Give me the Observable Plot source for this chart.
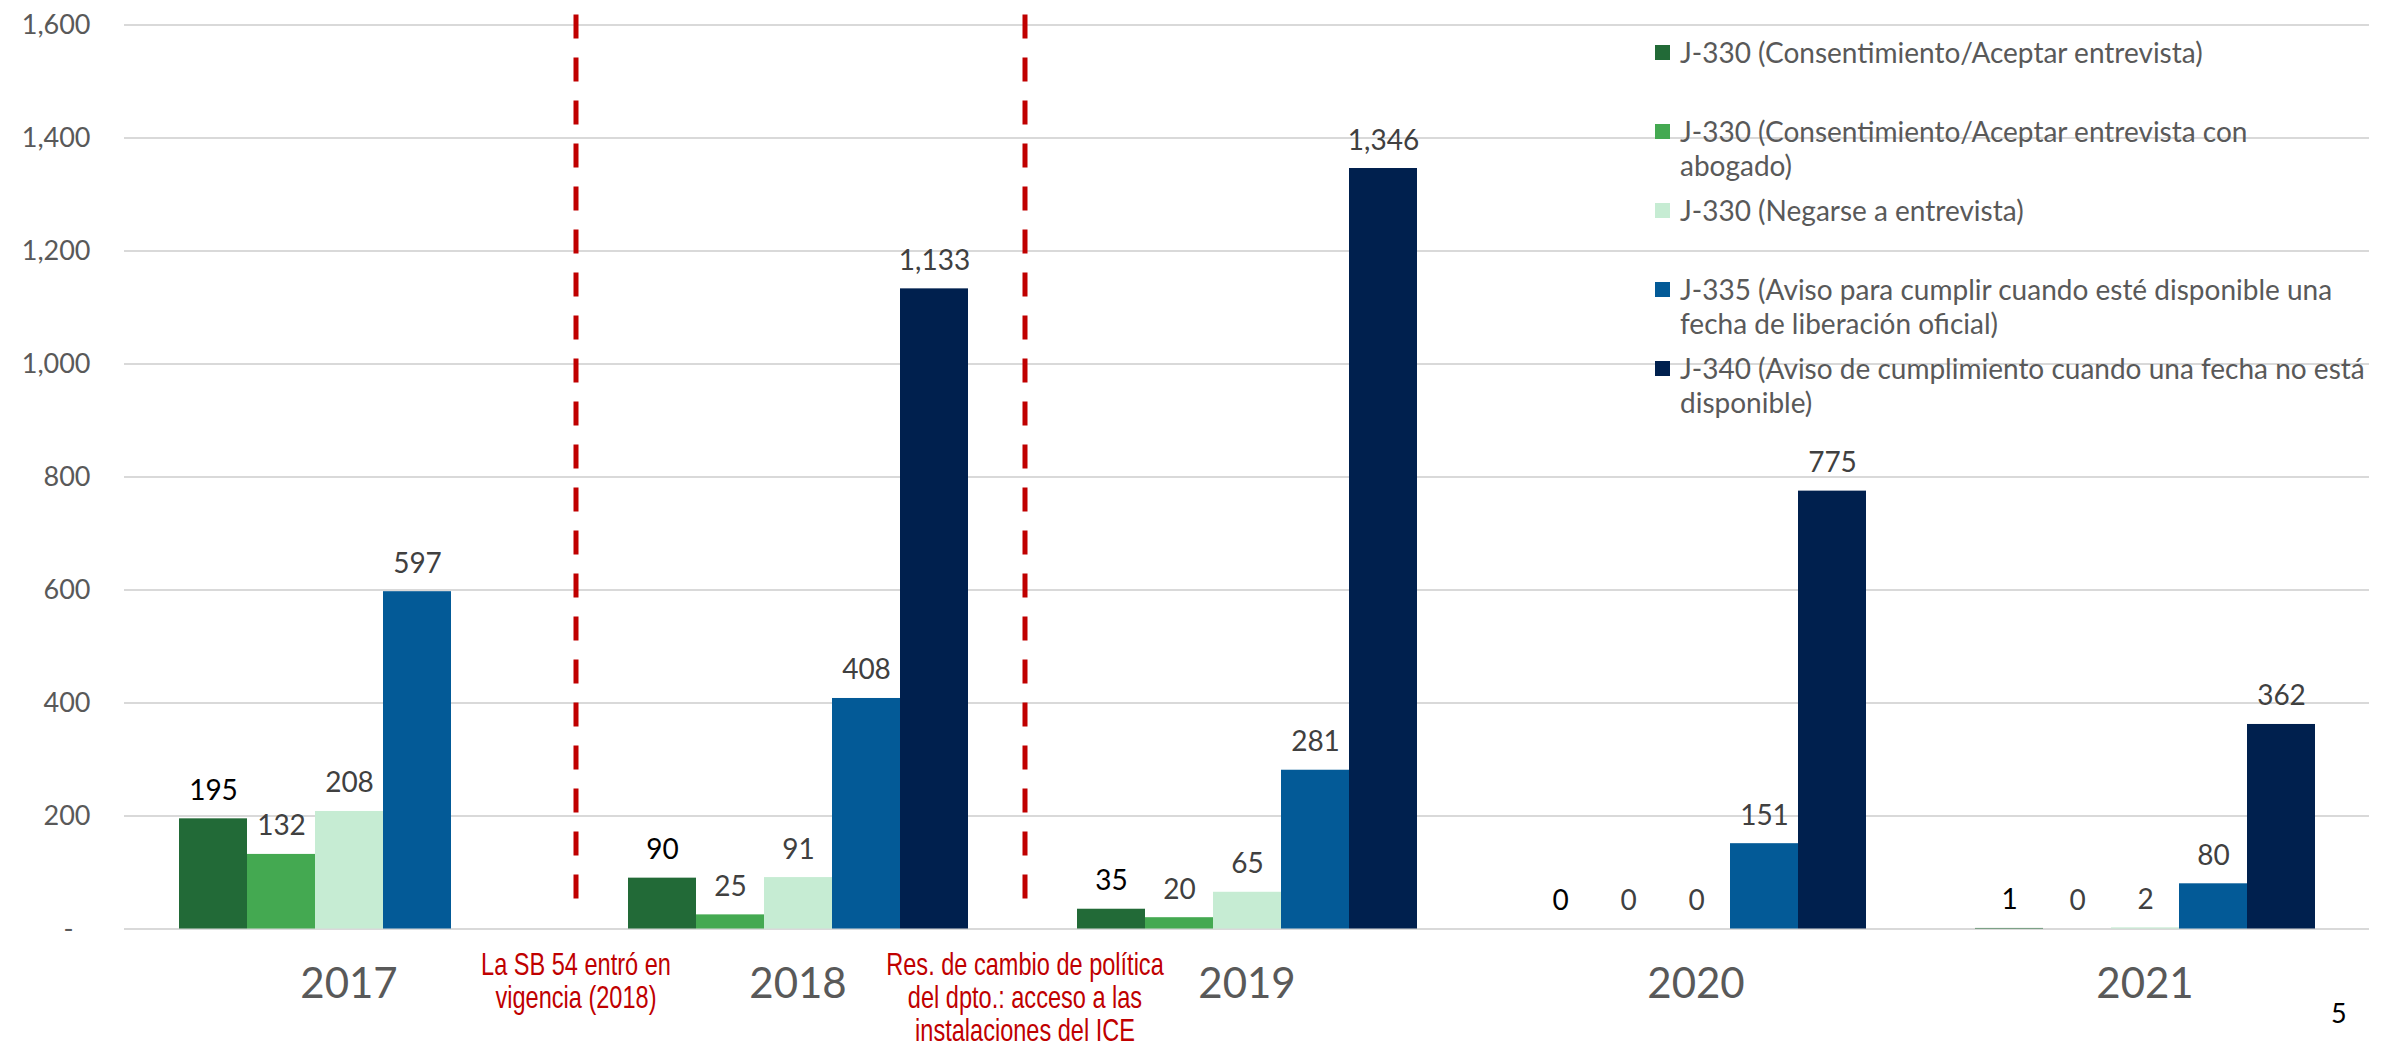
<!DOCTYPE html>
<html>
<head>
<meta charset="utf-8">
<script src="https://cdn.jsdelivr.net/npm/d3@7"></script>
<script src="https://cdn.jsdelivr.net/npm/@observablehq/plot@0.6"></script>
<style>
  body { margin: 0; background: #fff; }
  #wrap { position: relative; width: 2391px; height: 1048px; overflow: hidden; font-family: Lato, "Open Sans", sans-serif; }
  #legend { position: absolute; left: 1655px; top: 0; }
  .li { position: absolute; left: 0; width: 736px; }
  .sw { position: absolute; left: 0; width: 15px; height: 15px; }
  .lt { position: absolute; left: 25px; font-size: 28px; line-height: 34px; color: #595959; white-space: pre; }
  #page { position: absolute; left: 2331px; top: 996px; font-size: 27px; color: #000; }
</style>
</head>
<body>
<div id="wrap"></div>
<script>
// ---- data ----
const years = ["2017", "2018", "2019", "2020", "2021"];
const series = [
  "J-330 (Consentimiento/Aceptar entrevista)",
  "J-330 (Consentimiento/Aceptar entrevista con abogado)",
  "J-330 (Negarse a entrevista)",
  "J-335 (Aviso para cumplir cuando esté disponible una fecha de liberación oficial)",
  "J-340 (Aviso de cumplimiento cuando una fecha no está disponible)"
];
const legendText = [
  "J-330 (Consentimiento/Aceptar entrevista)",
  "J-330 (Consentimiento/Aceptar entrevista con\nabogado)",
  "J-330 (Negarse a entrevista)",
  "J-335 (Aviso para cumplir cuando esté disponible una\nfecha de liberación oficial)",
  "J-340 (Aviso de cumplimiento cuando una fecha no está\ndisponible)"
];
const consentir = [195, 90, 35, 0, 1];
const consentirAbogado = [132, 25, 20, 0, 0];
const negarse = [208, 91, 65, 0, 2];
const j335 = [597, 408, 281, 151, 80];
const j340 = [null, 1133, 1346, 775, 362];
const yTicks = [0, 200, 400, 600, 800, 1000, 1200, 1400, 1600];
const annotations = [
  {year: "2018", lines: ["La SB 54 entró en", "vigencia (2018)"]},
  {year: "2019", lines: ["Res. de cambio de política", "del dpto.: acceso a las", "instalaciones del ICE"]}
];
const pageNumber = "5";
const colors = ["#226a37", "#44a951", "#c6ecd3", "#035a97", "#00204e"];

// ---- build table ----
const valuesBySeries = [consentir, consentirAbogado, negarse, j335, j340];
const rows = [];
series.forEach((s, i) => {
  years.forEach((y, j) => {
    const v = valuesBySeries[i][j];
    if (v !== null && v !== undefined) rows.push({series: s, year: y, value: v, idx: i});
  });
});

const fmt = d3.format(",");
const plot = Plot.plot({
  width: 2391,
  height: 1048,
  marginLeft: 122,
  marginRight: 21,
  marginTop: 24.5,
  marginBottom: 119.5,
  style: {fontFamily: "Lato, 'Open Sans', sans-serif", background: "#fff"},
  fx: {domain: years, padding: 0, label: null},
  x: {domain: series, paddingInner: 0, paddingOuter: 0.76, axis: null},
  y: {domain: [0, 1600], label: null},
  color: {domain: series, range: colors},
  marks: [
    Plot.gridY(yTicks, {stroke: "#d9d9d9", strokeOpacity: 1, strokeWidth: 2}),
    Plot.barY(rows, {fx: "year", x: "series", y: "value", fill: "series"}),
    Plot.text(rows.filter(d => d.idx === 0), {fx: "year", x: "series", y: "value", text: d => fmt(d.value),
      lineAnchor: "bottom", dy: -19, fontSize: 28, fill: "#000"}),
    Plot.text(rows.filter(d => d.idx !== 0), {fx: "year", x: "series", y: "value", text: d => fmt(d.value),
      lineAnchor: "bottom", dy: -19, fontSize: 28, fill: "#404040"}),
    Plot.axisY(yTicks, {tickSize: 0, tickPadding: 34, fontSize: 27, fill: "#595959", label: null,
      tickFormat: d => d === 0 ? "-\u2002\u2009" : fmt(d)}),
    Plot.axisFx({anchor: "bottom", tickSize: 0, tickPadding: 39, fontSize: 42, fill: "#595959", label: null})
  ]
});

document.getElementById("wrap").appendChild(plot);

// ---- annotations using the plot's scales ----
const fxS = plot.scale("fx");
const yS = plot.scale("y");
const svg = d3.select(plot);
const y0 = yS.apply(0), yTop = yS.apply(1600);
annotations.forEach(a => {
  const x = fxS.apply(a.year) + 3;
  svg.append("line")
    .attr("x1", x).attr("x2", x)
    .attr("y1", yTop - 10).attr("y2", y0 - 13)
    .attr("stroke", "#c00000").attr("stroke-width", 5)
    .attr("stroke-dasharray", "24,19");
  const g = svg.append("g").attr("transform", `translate(${x},0) scale(0.76,1)`);
  const t = g.append("text")
    .attr("text-anchor", "middle")
    .attr("font-family", "'Liberation Sans', Arial, sans-serif")
    .attr("font-size", 31)
    .attr("fill", "#c00000");
  a.lines.forEach((ln, k) => {
    t.append("tspan").attr("x", 0).attr("y", y0 + 47 + k * 33).text(ln);
  });
});

// ---- legend ----
const legend = d3.select("#wrap").append("div").attr("id", "legend");
series.forEach((s, i) => {
  const item = legend.append("div").attr("class", "li").style("top", (35 + i * 79) + "px");
  item.append("div").attr("class", "sw").style("top", "10px").style("background", colors[i]);
  item.append("div").attr("class", "lt").style("top", "0px").text(legendText[i]);
});
d3.select("#wrap").append("div").attr("id", "page").text(pageNumber);
</script>
</body>
</html>
